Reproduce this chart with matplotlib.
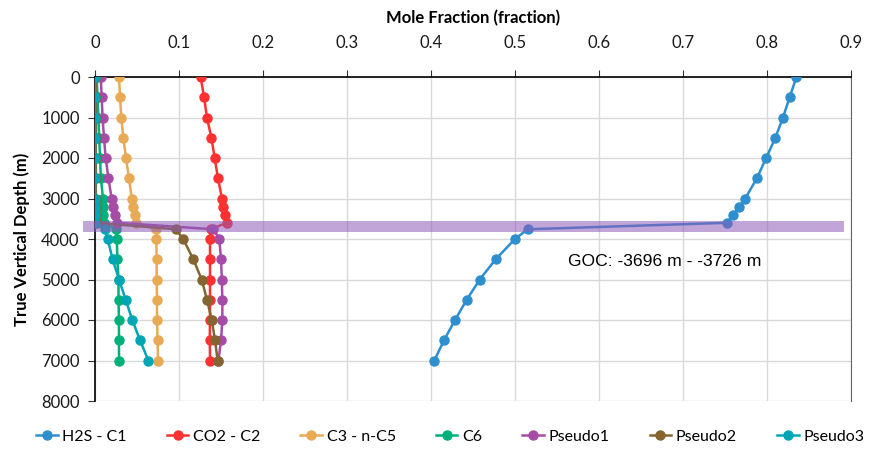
import matplotlib
matplotlib.use("Agg")
import matplotlib.pyplot as plt
from matplotlib.patches import Rectangle

depth = [0, 500, 1000, 1500, 2000, 2500, 3000, 3200, 3400, 3600,
         3760, 4000, 4500, 5000, 5500, 6000, 6500, 7000]

h2s_c1 = [0.835, 0.827, 0.819, 0.810, 0.799, 0.788, 0.774, 0.767, 0.760, 0.752,
          0.515, 0.500, 0.477, 0.458, 0.4425, 0.4286, 0.4155, 0.404]
co2_c2 = [0.1258, 0.1298, 0.1333, 0.1385, 0.1425, 0.1464, 0.1512, 0.1528, 0.1548, 0.1567,
          0.1377, 0.1369, 0.1369, 0.1369, 0.1369, 0.1369, 0.1366, 0.137]
c3_nc5 = [0.0286, 0.0298, 0.0313, 0.0337, 0.0369, 0.0405, 0.0437, 0.0448, 0.0476, 0.049,
          0.0726, 0.073, 0.0734, 0.0734, 0.0738, 0.0738, 0.0746, 0.075]
c6 = [0.002, 0.003, 0.004, 0.005, 0.006, 0.007, 0.0095, 0.0099, 0.0099, 0.011,
      0.025, 0.026, 0.0266, 0.028, 0.028, 0.0285, 0.0285, 0.0286]
pseudo1 = [0.0068, 0.008, 0.009, 0.0107, 0.0127, 0.016, 0.0198, 0.0218, 0.0242, 0.0266,
           0.141, 0.148, 0.150, 0.151, 0.1516, 0.1516, 0.150, 0.147]
pseudo2 = [0.001, 0.001, 0.001, 0.001, 0.001, 0.001, 0.001, 0.001, 0.0015, 0.002,
           0.0964, 0.105, 0.117, 0.127, 0.1333, 0.139, 0.1429, 0.146]
pseudo3 = [0.0, 0.0, 0.0, 0.0, 0.0, 0.0, 0.0, 0.0, 0.0, 0.0,
           0.012, 0.015, 0.021, 0.0286, 0.0365, 0.0444, 0.0536, 0.0635]

series_names = ["H2S - C1", "CO2 - C2", "C3 - n-C5", "C6", "Pseudo1", "Pseudo2", "Pseudo3"]
series_values = [h2s_c1, co2_c2, c3_nc5, c6, pseudo1, pseudo2, pseudo3]
colors = ["#2E8FCF", "#FF3030", "#E8AA55", "#00B07A", "#A64CA6", "#85652F", "#00A6B4"]

goc_top, goc_bottom = 3556, 3827
goc_label = "GOC: -3696 m - -3726 m"

x_ticks = [0, 0.1, 0.2, 0.3, 0.4, 0.5, 0.6, 0.7, 0.8, 0.9]
x_ticklabels = ["0", "0.1", "0.2", "0.3", "0.4", "0.5", "0.6", "0.7", "0.8", "0.9"]
y_ticks = [0, 1000, 2000, 3000, 4000, 5000, 6000, 7000, 8000]

ui_font = ["Lato", "DejaVu Sans"]

fig = plt.figure(figsize=(8.69, 4.49), dpi=100)
ax = fig.add_axes([95/869, 1-401/449, (851-95)/869, (401-77)/449])

for name, vals, c in zip(series_names, series_values, colors):
    ax.plot(vals, depth, color=c, lw=1.8, marker="o", markersize=6.5,
            label=name, zorder=3)

band = Rectangle((-0.014, goc_top), 0.906, goc_bottom - goc_top,
                 facecolor="#8E5BB8", alpha=0.55, edgecolor="none",
                 clip_on=False, zorder=4)
ax.add_patch(band)

ax.text(0.5625, 4560, goc_label, fontsize=12.6, family=["Liberation Sans"],
        ha="left", va="center", color="black")

ax.set_xlim(0, 0.9)
ax.set_ylim(8000, 0)
ax.xaxis.tick_top()
ax.xaxis.set_label_position("top")
ax.set_xticks(x_ticks)
ax.set_xticklabels(x_ticklabels)
ax.set_yticks(y_ticks)

for lab in ax.get_xticklabels() + ax.get_yticklabels():
    lab.set_family(ui_font)
    lab.set_fontsize(12)
    lab.set_color("#1a1a1a")

ax.set_xlabel("Mole Fraction (fraction)", fontsize=12, fontweight="bold",
              family=ui_font, labelpad=8)
ax.set_ylabel("True Vertical Depth (m)", fontsize=12, fontweight="bold",
              family=ui_font, labelpad=8)

ax.grid(True, color="#D9D9D9", lw=1.0, zorder=0)
ax.set_axisbelow(True)
ax.tick_params(axis="x", direction="out", length=5, color="#333333", pad=14)
ax.tick_params(axis="y", direction="out", length=5, color="#333333", pad=6)
ax.spines["left"].set_color("black")
ax.spines["top"].set_color("black")
ax.spines["left"].set_linewidth(1.2)
ax.spines["top"].set_linewidth(1.2)
ax.spines["bottom"].set_visible(False)
ax.spines["right"].set_color("#666666")
ax.spines["right"].set_linewidth(0.8)

leg = fig.legend(loc="center", bbox_to_anchor=(0.518, 0.027), ncol=7,
                 frameon=False, prop={"family": ui_font, "size": 11.5},
                 handlelength=1.35, columnspacing=2.5, handletextpad=0.3)

fig.savefig("out.png", dpi=100)
